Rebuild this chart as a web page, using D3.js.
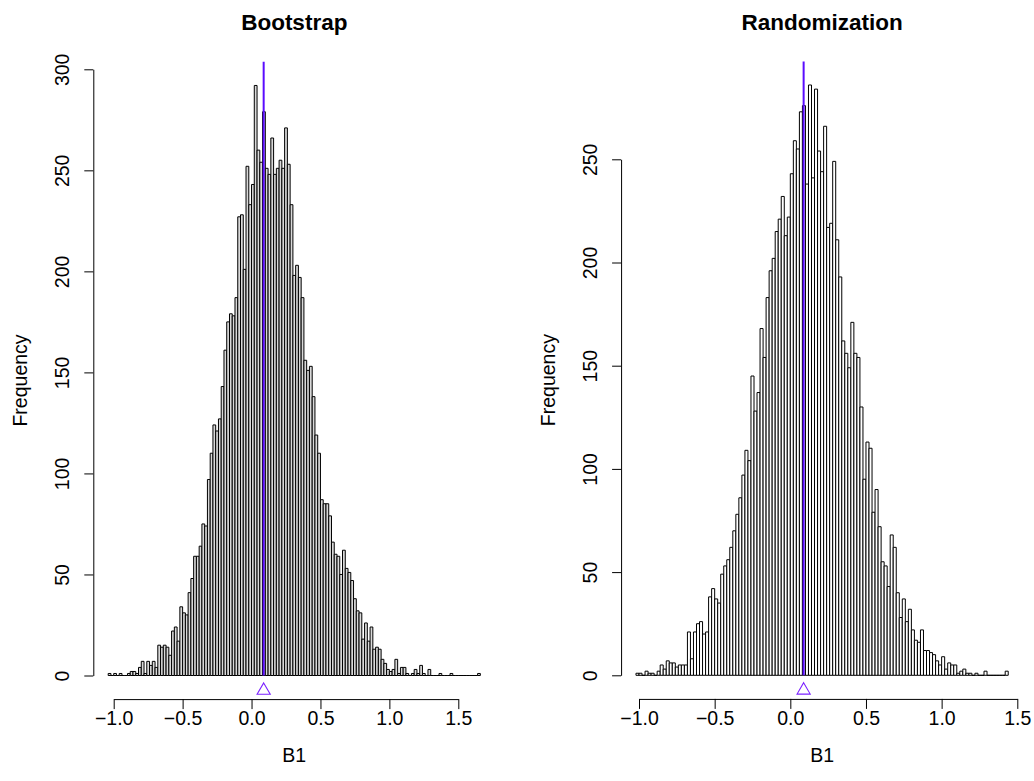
<!DOCTYPE html>
<html>
<head>
<meta charset="utf-8">
<script src="https://cdn.jsdelivr.net/npm/d3@7"></script>
<style>
  body { margin: 0; background: #fff; }
  text { font-family: "Liberation Sans", Arial, Helvetica, sans-serif; fill: #000; }
</style>
</head>
<body>
<div id="chart"></div>
<script>
// Histogram counts, bins of width 0.02
var binWidth = 0.02,
    bootStart = -1.04,
    bootCounts = [1, 0, 1, 0, 1, 0, 0, 1, 2, 2, 1, 4, 7, 1, 7, 5, 7, 4, 15, 14,
        15, 14, 10, 22, 24, 17, 34, 31, 30, 41, 48, 59, 59, 64, 75, 74, 97, 110, 124, 121,
        127, 143, 161, 175, 179, 178, 187, 227, 228, 201, 252, 233, 243, 292, 260, 254, 279, 251, 248, 266,
        248, 251, 255, 251, 271, 253, 233, 198, 203, 197, 187, 156, 151, 153, 138, 119, 110, 87, 85, 85,
        79, 66, 60, 59, 50, 62, 53, 51, 47, 38, 32, 31, 18, 26, 17, 24, 13, 14, 13, 8,
        6, 3, 2, 3, 8, 1, 4, 4, 1, 0, 1, 3, 1, 5, 1, 0, 3, 0, 0, 0,
        1, 0, 0, 0, 1, 0, 0, 0, 0, 0, 0, 0, 0, 0, 1],
    randStart = -1.02,
    randCounts = [1, 1, 0, 2, 1, 1, 0, 2, 5, 3, 7, 6, 6, 4, 5, 5, 5, 21, 8, 21,
        25, 26, 20, 21, 38, 42, 37, 35, 49, 53, 56, 62, 70, 78, 86, 97, 109, 104, 145, 128,
        137, 168, 154, 183, 196, 202, 215, 221, 232, 213, 222, 243, 259, 255, 273, 276, 238, 286, 241, 284,
        254, 244, 266, 217, 219, 249, 211, 193, 162, 156, 149, 171, 156, 154, 130, 95, 113, 110, 79, 90,
        72, 55, 53, 43, 68, 62, 40, 28, 37, 26, 32, 22, 17, 16, 22, 12, 12, 11, 10, 7,
        5, 9, 3, 6, 5, 5, 1, 2, 3, 1, 1, 0, 1, 0, 0, 2, 0, 0, 0, 0,
        0, 0, 2],
    observedB1 = 0.088,
    xTicks = [-1.0, -0.5, 0.0, 0.5, 1.0, 1.5],
    bootYTicks = [0, 50, 100, 150, 200, 250, 300],
    randYTicks = [0, 50, 100, 150, 200, 250];

var labelSize = '19.5px', titleSize = '22.5px';

var svg = d3.select('#chart').append('svg')
    .attr('width', 1034)
    .attr('height', 781)
    .style('background', '#fff');

drawPanel({
    title: 'Bootstrap',
    start: bootStart,
    counts: bootCounts,
    yTicks: bootYTicks,
    fill: '#d9d9d9',
    x: d3.scaleLinear().domain([-1.0, 1.5]).range([113.7, 458.3]),
    y: d3.scaleLinear().domain([0, 300]).range([675.5, 69.3])
});

drawPanel({
    title: 'Randomization',
    start: randStart,
    counts: randCounts,
    yTicks: randYTicks,
    fill: '#ffffff',
    x: d3.scaleLinear().domain([-1.0, 1.5]).range([639, 1017.3]),
    y: d3.scaleLinear().domain([0, 250]).range([675.3, 159.3])
});

function drawPanel(p) {
    let x = p.x, y = p.y,
        n = p.counts.length,
        lo = p.start,
        hi = p.start + n * binWidth,
        span = hi - lo,
        ymax = d3.max(p.counts);

    // plot region the way R extends it (4% each side)
    let left = x(lo - 0.04 * span),
        right = x(hi + 0.04 * span),
        top = y(ymax * 1.04),
        bottom = y(-ymax * 0.04),
        cx = (left + right) / 2;

    let g = svg.append('g');

    // bars (paths so empty bins still show as a flat line)
    g.append('g')
        .selectAll('path')
        .data(p.counts)
        .enter().append('path')
        .attr('d', (c, i) => {
            let x0 = x(lo + i * binWidth), x1 = x(lo + (i + 1) * binWidth);
            return 'M' + x0 + ',' + y(0) + 'V' + y(c) + 'H' + x1 + 'V' + y(0) + 'Z';
        })
        .attr('fill', p.fill)
        .attr('stroke', '#000')
        .attr('stroke-width', 1);

    // observed value
    g.append('line')
        .attr('x1', x(observedB1)).attr('x2', x(observedB1))
        .attr('y1', y(0)).attr('y2', top)
        .attr('stroke', '#5a0cff')
        .attr('stroke-width', 2);

    g.append('path')
        .attr('d', d3.symbol().type(d3.symbolTriangle).size(75))
        .attr('transform', 'translate(' + x(observedB1) + ',' + (y(0) + 15) + ')')
        .attr('fill', 'none')
        .attr('stroke', '#7b22ff')
        .attr('stroke-width', 1.1);

    // x axis
    let xAxis = g.append('g')
        .attr('transform', 'translate(0,' + bottom + ')')
        .call(d3.axisBottom(x).tickValues(xTicks).tickSizeOuter(0).tickSizeInner(10)
            .tickFormat(d => d3.format('.1f')(d).replace('-', '\u2212')));
    xAxis.select('.domain').attr('stroke', '#000');
    xAxis.selectAll('.tick line').attr('stroke', '#000');
    xAxis.selectAll('.tick text')
        .attr('y', 26).attr('dy', 0)
        .style('font-size', labelSize);

    // y axis
    let yAxis = g.append('g')
        .attr('transform', 'translate(' + left + ',0)')
        .call(d3.axisLeft(y).tickValues(p.yTicks).tickSizeOuter(0).tickSizeInner(9));
    yAxis.select('.domain').attr('stroke', '#000');
    yAxis.selectAll('.tick line').attr('stroke', '#000');
    yAxis.selectAll('.tick text')
        .attr('transform', 'rotate(-90)')
        .attr('x', 0).attr('y', -24).attr('dy', 0)
        .attr('text-anchor', 'middle')
        .style('font-size', labelSize);

    g.selectAll('.tick text').attr('fill', '#000').style('font-family', '"Liberation Sans", Arial, sans-serif');

    // labels
    g.append('text')
        .attr('x', cx).attr('y', 30)
        .attr('text-anchor', 'middle')
        .style('font-size', titleSize)
        .style('font-weight', 'bold')
        .text(p.title);

    g.append('text')
        .attr('x', cx).attr('y', 762)
        .attr('text-anchor', 'middle')
        .style('font-size', labelSize)
        .text('B1');

    g.append('text')
        .attr('transform', 'translate(' + (left - 66) + ',' + ((top + bottom) / 2) + ') rotate(-90)')
        .attr('text-anchor', 'middle')
        .style('font-size', labelSize)
        .text('Frequency');
}
</script>
</body>
</html>
